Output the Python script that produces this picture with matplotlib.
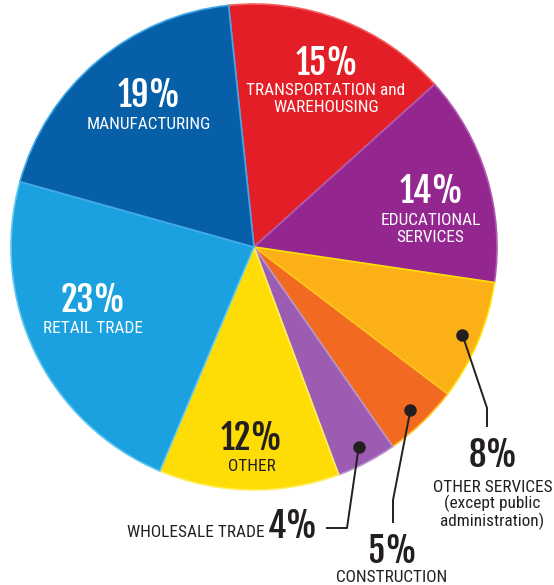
import numpy as np
import matplotlib
matplotlib.use("Agg")
import matplotlib.pyplot as plt
import matplotlib.patheffects as pe
from matplotlib import font_manager as fm
from matplotlib.font_manager import FontProperties
from matplotlib.textpath import TextPath

# industry shares, clockwise from the top
sectors = ["TRANSPORTATION and\nWAREHOUSING", "EDUCATIONAL\nSERVICES",
           "OTHER SERVICES\n(except public\nadministration)", "CONSTRUCTION",
           "WHOLESALE TRADE", "OTHER", "RETAIL TRADE", "MANUFACTURING"]
shares = [15, 14, 8, 5, 4, 12, 23, 19]
colors = ["#E41E26", "#93278F", "#FBB017", "#F26A22",
          "#9B5CB2", "#FEDD06", "#1BA1DF", "#075FA8"]
edges = ["#F36060", "#B05AB0", "#FFE000", "#FFC020",
         "#B890D0", "#FFEE60", "#60C8F0", "#40A8E8"]

W, H = 554, 585
DPI = 100
CX, CY, R = 254, 247, 243
DARK = "#231F20"


def first_font(names):
    for n in names:
        try:
            fm.findfont(FontProperties(family=n), fallback_to_default=False)
            return n
        except ValueError:
            continue
    return "DejaVu Sans"


# heavy condensed face for the numbers; extra stroke where the face is light
big_name = first_font(["Fjalla One", "Oswald", "League Gothic", "Roboto Condensed"])
big_stroke = {"Fjalla One": 0.0, "Oswald": 1.1, "League Gothic": 0.7}.get(big_name, 1.0)
BIG = FontProperties(family=[big_name, "DejaVu Sans"], weight="bold")
SMALL = FontProperties(family=[first_font(["Roboto Condensed", "Archivo Narrow",
                                           "Pathway Gothic One", "Oswald"]),
                               "DejaVu Sans"], weight="normal")


def fit_size(prop, sample, w_px, h_px):
    # font size (pt) that makes `sample` about w_px wide and h_px tall
    ext = TextPath((0, 0), sample, size=100, prop=prop).get_extents()
    fw = w_px * 72 / DPI * 100 / ext.width
    fh = h_px * 72 / DPI * 100 / ext.height
    return np.sqrt(fw * fh)


BIG_SIZE = fit_size(BIG, "19%", 60, 30)
SMALL_SIZE = fit_size(SMALL, "MANUFACTURING", 118, 13)


def px(x, y):
    # picture pixel (top-left origin) -> data coords
    return x, H - y


fig = plt.figure(figsize=(W / DPI, H / DPI), dpi=DPI)
ax = fig.add_axes([0, 0, 1, 1])

wedges, _ = ax.pie(shares, colors=colors, startangle=96, counterclock=False,
                   center=px(CX, CY), radius=R,
                   wedgeprops=dict(linewidth=1.2))
for w, ec in zip(wedges, edges):
    w.set_edgecolor(ec)

ax.set_xlim(0, W)
ax.set_ylim(0, H)
ax.set_aspect("equal")
ax.axis("off")


def label(i, x, y, lines_at, col, ha="center"):
    effects = []
    if big_stroke > 0:
        effects = [pe.withStroke(linewidth=big_stroke, foreground=col)]
    ax.text(*px(x, y), f"{shares[i]}%", color=col, fontproperties=BIG,
            fontsize=BIG_SIZE, ha="center", va="baseline", path_effects=effects)
    for line, (lx, ly) in zip(sectors[i].split("\n"), lines_at):
        ax.text(*px(lx, ly), line, color=col, fontproperties=SMALL,
                fontsize=SMALL_SIZE, ha=ha, va="baseline")


# labels inside the pie (percent centre x / baseline y, then each text line)
label(7, 149, 107, [(149, 129)], "white")
label(0, 327, 75, [(326, 95), (326, 112)], "white")
label(1, 432, 203, [(431, 225), (430, 242)], "white")
label(6, 93, 312, [(93, 333)], "white")
label(5, 252, 450, [(252, 471)], DARK)

# labels outside, for the small slices
label(2, 493, 467, [(493, 492), (492, 508), (492, 526)], DARK)
label(3, 392, 563, [(392, 582)], DARK)
label(4, 293, 538, [(265, 537)], DARK, ha="right")


def mid_point(i, frac):
    w = wedges[i]
    a = np.deg2rad((w.theta1 + w.theta2) / 2)
    cx, cy = w.center
    return cx + frac * R * np.cos(a), cy + frac * R * np.sin(a)


# leader lines: dot in the slice, then elbow and end point
leaders = {2: [(487, 408), (487, 427)],
           3: [(393, 500), (393, 523)],
           4: [(347, 528), (326, 528)]}
for i, pts in leaders.items():
    x0, y0 = mid_point(i, 0.93)
    xs = [x0] + [px(*p)[0] for p in pts]
    ys = [y0] + [px(*p)[1] for p in pts]
    ax.plot(xs, ys, color=DARK, lw=1.4, solid_capstyle="butt")
    ax.plot(x0, y0, "o", color=DARK, ms=8)

fig.savefig("out.png", dpi=DPI)
